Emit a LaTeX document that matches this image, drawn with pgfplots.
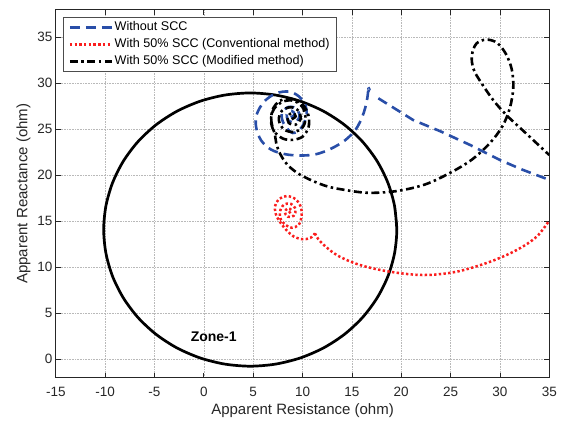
\documentclass[border=0pt]{standalone}
\usepackage{fontspec}
\setmainfont{Liberation Sans}
\usepackage{pgfplots}
\pgfplotsset{compat=1.18}
\definecolor{mblue}{RGB}{41,78,168}
\definecolor{mred}{RGB}{250,30,30}
\begin{document}
\begin{tikzpicture}
\begin{axis}[
  scale only axis, width=493.5bp, height=368bp,
  xmin=-15, xmax=35, ymin=-2, ymax=38,
  xtick={-15,-10,...,35}, ytick={0,5,...,35},
  /pgf/number format/assume math mode=true,
  tick label style={font=\fontsize{13.5bp}{16bp}\selectfont, text=black!85},
  xticklabel style={yshift=-6bp},
  label style={font=\fontsize{15bp}{18bp}\selectfont, text=black!85},
  xlabel={Apparent Resistance (ohm)},
  ylabel={Apparent Reactance (ohm)},
  axis line style={line width=0.8bp, black!85},
  major tick length=5bp,
  tick style={line width=0.8bp, black!85},
  grid=major,
  major grid style={line width=0.7bp, gray!55, dash pattern=on 0.8bp off 0.8bp},
  legend cell align=left,
  legend style={at={(0,1)}, anchor=north west, xshift=6.9bp, yshift=-7bp,
    font=\fontsize{12.6bp}{14bp}\selectfont, draw=black!70, line width=0.8bp,
    inner xsep=5.5bp, inner ysep=1.8bp,
    nodes={inner sep=1.5bp, text height=10.5bp, text depth=3.5bp},
    /tikz/every even column/.append style={column sep=3.5bp}},
  legend image code/.code={\draw[#1] (0bp,0bp) -- (42bp,0bp);},
]
% relay zone circle
\addplot[forget plot, black, line width=2.7bp, smooth] coordinates {
(19.55,14.10) (19.32,16.68) (18.65,19.18) (17.56,21.53) (16.08,23.65) (14.25,25.48)
(12.13,26.96) (9.78,28.05) (7.28,28.72) (4.70,28.95) (2.12,28.72) (-0.38,28.05)
(-2.73,26.96) (-4.85,25.48) (-6.68,23.65) (-8.16,21.53) (-9.25,19.18) (-9.92,16.68)
(-10.15,14.10) (-9.92,11.52) (-9.25,9.02) (-8.16,6.68) (-6.68,4.55) (-4.85,2.72)
(-2.73,1.24) (-0.38,0.15) (2.12,-0.52) (4.70,-0.75) (7.28,-0.52) (9.78,0.15)
(12.13,1.24) (14.25,2.72) (16.08,4.55) (17.56,6.68) (18.65,9.02) (19.32,11.52)
(19.55,14.10) (19.32,16.68)
};
% Without SCC
\addplot[mblue, line width=2.6bp, dash pattern=on 10bp off 6bp, smooth, tension=0.55] coordinates {
(8.8,26.3) (9.2,26.6) (8.9,27.0) (8.4,26.6) (8.6,25.9) (9.3,25.8) (9.7,26.5) (9.3,27.3)
(8.5,27.4) (7.9,26.7) (8.1,25.6) (9.0,24.6) (9.9,25.2) (10.4,26.5) (10.3,27.6) (9.6,28.6)
(8.6,29.1) (7.3,28.9) (6.1,28.0) (5.35,26.6) (5.3,25.2) (5.8,23.8) (6.8,22.8) (8.2,22.3)
(9.8,22.15) (11.4,22.3) (12.9,22.9) (14.3,23.8) (15.4,25.0) (16.1,26.5) (16.5,28.0) (16.65,29.2)
};
% With 50% SCC conventional
\addplot[mred, line width=2.5bp, dash pattern=on 2.4bp off 2.3bp, smooth, tension=0.55] coordinates {
(8.6,15.9) (8.9,16.2) (8.5,16.4) (8.2,16.0) (8.5,15.5) (9.1,15.6) (9.3,16.3) (8.8,16.9)
(8.1,16.8) (7.7,16.0) (7.8,15.2) (8.3,14.6) (8.9,14.3) (9.6,14.6) (9.9,15.5) (9.85,16.5)
(9.3,17.4) (8.4,17.75) (7.6,17.4) (7.2,16.6) (7.35,15.6) (7.8,14.8) (8.4,14.0) (9.1,13.35)
(10.0,13.05) (10.8,13.2) (11.26,13.7)
};
% With 50% SCC modified
\addplot[black, line width=2.6bp, dash pattern=on 8bp off 3.5bp on 2.5bp off 3.5bp, smooth, tension=0.55] coordinates {
(8.9,26.1) (9.3,26.4) (9.0,26.8) (8.5,26.4) (8.6,25.7) (9.3,25.5) (9.8,26.1) (9.6,27.0)
(8.8,27.4) (7.9,27.0) (7.6,26.0) (8.1,25.0) (9.1,24.7) (10.0,25.2) (10.3,26.2) (10.0,27.4)
(9.1,28.1) (8.0,28.0) (7.1,27.2) (6.8,26.0) (7.1,24.8) (8.0,24.0) (9.0,23.85) (10.0,24.2)
(10.6,25.2) (10.6,26.5) (10.0,27.7) (8.9,28.3) (7.7,28.1) (6.95,27.1) (6.85,25.8) (7.2,24.4)
(7.4,23.2) (7.9,22.0) (8.6,21.0) (9.7,20.1) (11.1,19.36) (12.5,18.8) (14.0,18.46) (16.57,18.1)
(19.5,18.28) (22.4,19.0) (24.96,20.27) (27.15,21.7) (28.98,23.5) (30.25,25.33) (31.0,27.3)
(31.35,29.5) (31.2,31.5) (30.6,33.2) (29.7,34.4) (28.6,34.75) (27.6,34.3) (27.15,33.0)
(27.3,31.6) (27.9,30.4) (29.3,28.2) (30.7,26.5) (32.6,24.6) (35,22.2)
};
% continuation pieces
\addplot[forget plot, mblue, line width=1.2bp] coordinates {
(16.65,29.2) (16.6,29.45) (16.75,29.55) (16.85,29.35) (16.75,29.15) (16.65,29.2)
};
\addplot[forget plot, mblue, line width=2.6bp, dash pattern=on 10bp off 6bp] coordinates {
(17.68,28.37) (21.22,26.0) (23.93,24.8) (26.97,23.3) (30.0,21.66) (32.3,20.6) (35,19.5)
};
\addplot[forget plot, mred, line width=2.5bp, dash pattern=on 2.4bp off 2.3bp, smooth, tension=0.55] coordinates {
(11.26,13.7) (11.8,12.8) (13.46,11.34) (15.82,10.25) (18.86,9.52) (22.23,9.16) (25.6,9.52)
(28.99,10.6) (31.7,11.88) (33.72,13.33) (35,15.1)
};
\node[font=\fontsize{14bp}{16bp}\selectfont\bfseries] at (axis cs:1.0,2.45) {Zone-1};
\legend{Without SCC, With 50\% SCC (Conventional method), With 50\% SCC (Modified method)}
\coordinate (SW) at (rel axis cs:0,0);
\coordinate (NE) at (rel axis cs:1,1);
\end{axis}
\pgfresetboundingbox
\path ([shift={(-55.8bp,-45.3bp)}]SW) rectangle ([shift={(15.7bp,9.7bp)}]NE);
\end{tikzpicture}
\end{document}
